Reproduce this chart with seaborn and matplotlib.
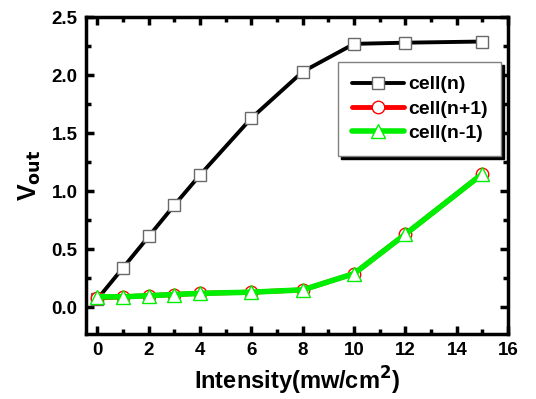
import matplotlib
matplotlib.use("Agg")
import matplotlib.pyplot as plt
from matplotlib.ticker import MultipleLocator
import pandas as pd
import seaborn as sns

# data
intensity = [0, 1, 2, 3, 4, 6, 8, 10, 12, 15]
cell_n = [0.07, 0.34, 0.61, 0.88, 1.14, 1.63, 2.03, 2.27, 2.28, 2.29]
cell_n_plus = [0.08, 0.09, 0.10, 0.11, 0.12, 0.13, 0.15, 0.29, 0.63, 1.15]
cell_n_minus = [0.09, 0.09, 0.10, 0.11, 0.12, 0.13, 0.15, 0.29, 0.63, 1.15]
labels = ['cell(n)', 'cell(n+1)', 'cell(n-1)']

sns.set_style('ticks')
plt.rcParams['font.family'] = ['Liberation Sans', 'DejaVu Sans']
plt.rcParams['font.weight'] = 'bold'
plt.rcParams['mathtext.default'] = 'bf'
plt.rcParams['text.color'] = 'black'
plt.rcParams['axes.labelcolor'] = 'black'
plt.rcParams['axes.edgecolor'] = 'black'
plt.rcParams['xtick.color'] = 'black'
plt.rcParams['ytick.color'] = 'black'

fig = plt.figure(figsize=(5.36, 3.99), dpi=100)
ax = fig.add_axes([0.160, 0.163, 0.788, 0.794])

df = pd.DataFrame({'x': intensity, labels[0]: cell_n,
                   labels[1]: cell_n_plus, labels[2]: cell_n_minus})

styles = [
    (labels[0], 'black', 's', 'dimgray', 2.8, 9),
    (labels[1], 'red', 'o', 'red', 3.5, 9),
    (labels[2], '#00ee00', '^', '#00ee00', 4.0, 10),
]
for lab, col, mk, mec, lw, ms in styles:
    sns.lineplot(data=df, x='x', y=lab, ax=ax, color=col, lw=lw, marker=mk,
                 markersize=ms, markerfacecolor='white', markeredgecolor=mec,
                 markeredgewidth=1.0, label=lab)

ax.set_xlim(-0.45, 16)
ax.set_ylim(-0.23, 2.5)
ax.xaxis.set_major_locator(MultipleLocator(2))
ax.xaxis.set_minor_locator(MultipleLocator(1))
ax.yaxis.set_major_locator(MultipleLocator(0.5))
ax.yaxis.set_minor_locator(MultipleLocator(0.25))
ax.set_yticklabels([f'{v:.1f}' for v in ax.get_yticks()])
ax.tick_params(which='both', direction='in', top=True, right=True,
               width=2.5, labelsize=13.5, pad=6)
ax.tick_params(which='major', length=6)
ax.tick_params(which='minor', length=3.5)
for s in ax.spines.values():
    s.set_linewidth(2.5)

ax.set_xlabel('Intensity(mw/cm$^2$)', fontsize=17, fontweight='bold', labelpad=4)
ax.set_ylabel('V$_{out}$', fontsize=18, fontweight='bold', labelpad=6)

leg = ax.legend(loc='upper left', bbox_to_anchor=(0.597, 0.858), fontsize=14,
                fancybox=False, shadow={'color': 'black', 'alpha': 1},
                edgecolor='gray', framealpha=1, handlelength=2.7,
                borderpad=0.7, labelspacing=0.35, handletextpad=0.2,
                borderaxespad=0)
leg.get_frame().set_linewidth(1.0)

fig.savefig('out.png', dpi=100)
